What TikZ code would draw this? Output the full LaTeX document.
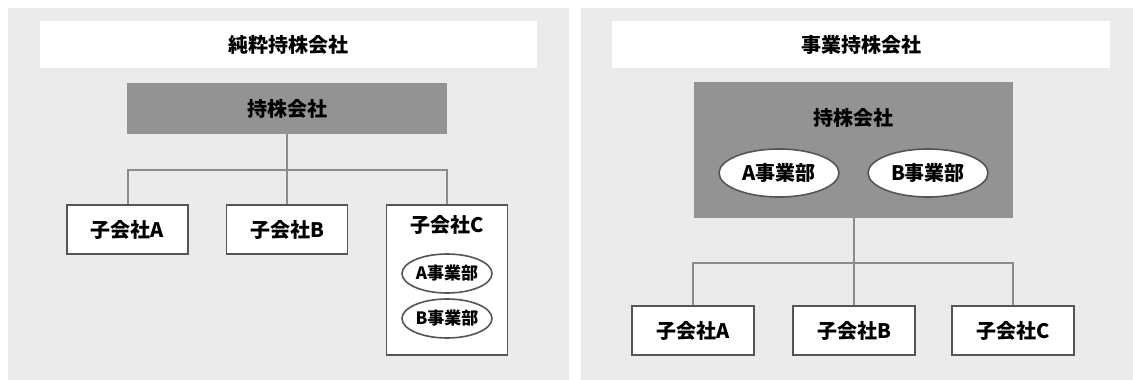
\documentclass[tikz,border=0pt]{standalone}
\usepackage{fontspec}
\setmainfont{Noto Sans CJK JP}
\usetikzlibrary{shapes.geometric}
\definecolor{panelbg}{HTML}{EBEBEB}
\definecolor{holdfill}{HTML}{939393}
\definecolor{linegray}{HTML}{8C8C8C}
\definecolor{boxedge}{HTML}{555555}
\begin{document}
\begin{tikzpicture}[x=1pt,y=-1pt,
  bigfont/.style={font=\fontsize{20}{24}\selectfont\bfseries},
  titlebox/.style={bigfont, fill=white, draw=none, inner sep=0pt, minimum height=47pt},
  holdbox/.style={bigfont, fill=holdfill, draw=none, inner sep=0pt},
  childbox/.style={bigfont, fill=white, draw=boxedge, line width=1.8pt, inner sep=0pt, minimum width=121pt, minimum height=49pt},
  divsmall/.style={ellipse, font=\fontsize{17}{20}\selectfont\bfseries, fill=white, draw=boxedge, line width=1.6pt, inner sep=0pt, minimum width=90pt, minimum height=39pt},
  divbig/.style={ellipse, bigfont, fill=white, draw=boxedge, line width=1.6pt, inner sep=0pt, minimum width=120pt, minimum height=48pt},
  conn/.style={draw=linegray, line width=2pt},
  plain/.style={bigfont, inner sep=0pt}]
\useasboundingbox (0,0) rectangle (1133,380);
\fill[white] (0,0) rectangle (1133,380);
% panels
\fill[panelbg] (7.5,8) rectangle (569,380);
\fill[panelbg] (581,8) rectangle (1133,380);

% ---------- left: pure holding company ----------
\node[titlebox, minimum width=497pt] (lt) at (288.5,44.5) {純粋持株会社};
\node[holdbox, minimum width=320pt, minimum height=51pt] (lh) at (287,108.5) {持株会社};
\node[childbox] (la) at (127.5,229.5) {子会社A};
\node[childbox] (lb) at (287,229.5) {子会社B};
\node[childbox, minimum height=150pt] (lc) at (447,280) {};
\node[plain] (lctext) at (447,225) {子会社C};
\node[divsmall] (lcA) at (447,273.5) {A事業部};
\node[divsmall] (lcB) at (447,318.5) {B事業部};
\coordinate (lbar) at (287,170);
\draw[conn] (lh.south) -- (lb.north);
\draw[conn] (la.north) |- (lbar) -| (lc.north);

% ---------- right: operating holding company ----------
\node[titlebox, minimum width=498pt] (rt) at (861,44.5) {事業持株会社};
\node[holdbox, minimum width=319pt, minimum height=136pt] (rh) at (853.5,150) {};
\node[plain] (rhtext) at (853.5,118) {持株会社};
\node[divbig] (rhA) at (779,173) {A事業部};
\node[divbig] (rhB) at (928,173) {B事業部};
\node[childbox, minimum width=122pt] (ra) at (693,330.5) {子会社A};
\node[childbox, minimum width=122pt] (rb) at (854,330.5) {子会社B};
\node[childbox, minimum width=122pt] (rc) at (1013,330.5) {子会社C};
\coordinate (rbar) at (854,263);
\draw[conn] (rh.south -| rb) -- (rb.north);
\draw[conn] (ra.north) |- (rbar) -| (rc.north);
\end{tikzpicture}
\end{document}
